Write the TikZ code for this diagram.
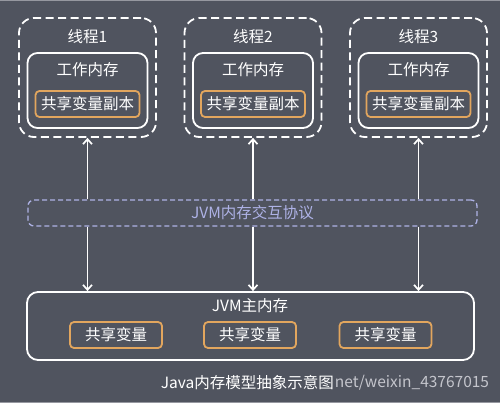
\documentclass[tikz,border=0pt]{standalone}
\usepackage{fontspec}
\setmainfont{Noto Sans CJK SC}
\usetikzlibrary{arrows.meta}

\definecolor{bgcol}{HTML}{50545F}
\definecolor{varcol}{HTML}{E2A65E}
\definecolor{protocol}{HTML}{AEB2E6}
\definecolor{wmark}{HTML}{C4C5CC}

\tikzset{
  txt/.style={inner sep=0.75pt, text=white, font=\fontsize{15.5}{18}\selectfont},
  threadbox/.style={draw=white, line width=1.8pt, dash pattern=on 8pt off 4.5pt, rounded corners=15pt, minimum width=137pt, minimum height=119pt},
  workbox/.style={draw=white, line width=1.8pt, rounded corners=10pt, minimum width=120pt, minimum height=75pt},
  varbox/.style={draw=varcol, line width=1.8pt, rounded corners=4pt, minimum height=26pt, inner sep=0pt},
  protobox/.style={draw=protocol, line width=1.3pt, dash pattern=on 5pt off 3pt, rounded corners=6pt, minimum width=449pt, minimum height=26pt},
  mainbox/.style={draw=white, line width=1.8pt, rounded corners=11pt, minimum width=447pt, minimum height=68pt},
  arr/.style={draw=white, line width=1.9pt, -{Straight Barb[length=5pt,width=9pt,line width=1.7pt]}}
}

\begin{document}
\begin{tikzpicture}[x=1pt,y=1pt,yscale=-1,xscale=1]
% background
\fill[bgcol] (0,0) rectangle (500,403);
\useasboundingbox (0,0) rectangle (500,403);
\draw[wmark!60!bgcol, line width=1.5pt] (0,0.75) -- (500,0.75);
\draw[wmark!60!bgcol, line width=1.5pt] (0,402.25) -- (500,402.25);

% Threads
\node[threadbox] (t1) at (87.5,77.5) {};
\node[threadbox] (t2) at (253,77.5) {};
\node[threadbox] (t3) at (418.5,77.5) {};
% Working memory
\node[workbox] (w1) at (87.5,90.5) {};
\node[workbox] (w2) at (253,90.5) {};
\node[workbox] (w3) at (418.5,90.5) {};
% Copies of shared variables
\node[varbox, minimum width=104pt] (c1) at (87.5,104) {};
\node[varbox, minimum width=104pt] (c2) at (253,104) {};
\node[varbox, minimum width=104pt] (c3) at (418.5,104) {};

% Text Node
\node[txt] (n1) at (87.5,37) {线程1};
\node[txt] (n2) at (253,37) {线程2};
\node[txt] (n3) at (418.5,37) {线程3};
% Text Node
\node[txt] (wl1) at (87.5,70) {工作内存};
\node[txt] (wl2) at (253,70) {工作内存};
\node[txt] (wl3) at (418.5,70) {工作内存};
% Text Node
\node[txt] at (c1) {共享变量副本};
\node[txt] at (c2) {共享变量副本};
\node[txt] at (c3) {共享变量副本};

% Protocol
\node[protobox] (proto) at (252.5,213) {};
\node[txt, text=protocol] at (proto) {JVM内存交互协议};

% Main memory
\node[mainbox] (main) at (250.5,326) {};
\node[txt] (ml) at (250,306) {JVM主内存};
\node[varbox, minimum width=92pt] (s1) at (116,335) {};
\node[varbox, minimum width=92pt] (s2) at (250,335) {};
\node[varbox, minimum width=92pt] (s3) at (385.5,335) {};
\node[txt] at (s1) {共享变量};
\node[txt] at (s2) {共享变量};
\node[txt] at (s3) {共享变量};

% Arrows
\foreach \t in {t1,t2,t3}{
  \draw[arr] (proto.north -| \t) -- (\t.south);
  \draw[arr] (proto.south -| \t) -- (main.north -| \t);
}

% Caption
\node[txt, text=wmark, anchor=west] (wm) at (334,383) {net/weixin\_43767015};
\node[txt, anchor=west] (cap) at (160,383) {Java内存模型抽象示意图};
\end{tikzpicture}
\end{document}
